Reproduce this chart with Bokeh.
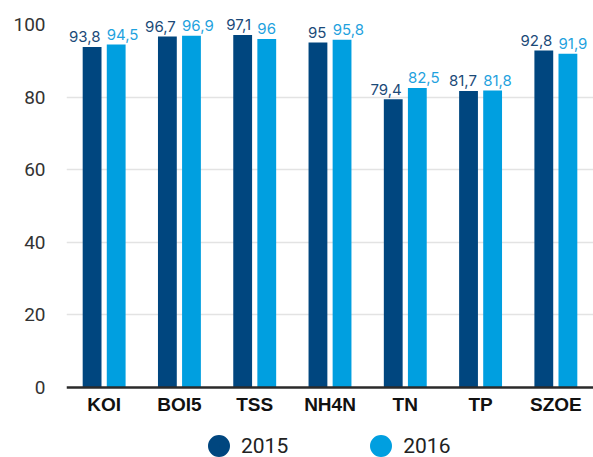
from bokeh.plotting import figure
from bokeh.models import FactorRange, Range1d, ColumnDataSource, Legend, LegendItem, FixedTicker
from bokeh.transform import dodge
from bokeh.core.properties import value
from bokeh.embed import file_html
from bokeh.resources import INLINE

cats = ["KOI", "BOI5", "TSS", "NH4N", "TN", "TP", "SZOE"]
v2015 = [93.8, 96.7, 97.1, 95, 79.4, 81.7, 92.8]
v2016 = [94.5, 96.9, 96, 95.8, 82.5, 81.8, 91.9]
years = ["2015", "2016"]
yticks = [0, 20, 40, 60, 80, 100]

def fmt(v):
    return f"{v:g}".replace(".", ",")

DARK = "#00467f"
LIGHT = "#009fe0"
DARK_T = "#1b4a78"
LIGHT_T = "#1fa2de"

OFF = 0.16
BW = 0.25

src = ColumnDataSource(dict(
    cats=cats, v2015=v2015, v2016=v2016,
    l2015=[fmt(v) for v in v2015], l2016=[fmt(v) for v in v2016],
))

# frame spans the full height; the category axis is pinned at y = 0 so that the
# legend below it still lies inside the frame
p = figure(x_range=FactorRange(*cats), y_range=Range1d(-19.28, 106.6),
           width=593, height=457, output_backend="svg", toolbar_location=None,
           min_border_left=66, min_border_right=0, min_border_top=0, min_border_bottom=0)
p.outline_line_color = None
p.background_fill_color = "white"

p.xgrid.visible = False
p.ygrid.ticker = FixedTicker(ticks=[20, 40, 60, 80])
p.ygrid.grid_line_color = "#e3e3e3"
p.ygrid.grid_line_width = 1.5

p.yaxis.ticker = FixedTicker(ticks=yticks)
p.yaxis.axis_line_color = None
p.yaxis.major_tick_line_color = None
p.yaxis.minor_tick_line_color = None
p.yaxis.major_label_standoff = 15
p.yaxis.major_label_text_font = "Roboto"
p.yaxis.major_label_text_font_size = "19px"
p.yaxis.major_label_text_color = "#333333"

p.xaxis.fixed_location = 0
p.xaxis.axis_line_color = "#2a2a2a"
p.xaxis.axis_line_width = 2.5
p.xaxis.major_tick_line_color = None
p.xaxis.minor_tick_line_color = None
p.xaxis.major_label_standoff = 0
p.xaxis.major_label_text_font = "Liberation Sans"
p.xaxis.major_label_text_font_style = "bold"
p.xaxis.major_label_text_font_size = "19px"
p.xaxis.major_label_text_color = "#111111"

p.vbar(x=dodge("cats", -OFF, range=p.x_range), top="v2015", width=BW,
       source=src, fill_color=DARK, line_color=None)
p.vbar(x=dodge("cats", OFF, range=p.x_range), top="v2016", width=BW,
       source=src, fill_color=LIGHT, line_color=None)

# 2015 labels right-aligned to the right edge of the dark bar,
# 2016 labels left-aligned to the left edge of the light bar
p.text(x=dodge("cats", -OFF + BW / 2, range=p.x_range), y="v2015", text="l2015", source=src,
       text_align="right", text_baseline="alphabetic", y_offset=-10, x_offset=-1,
       text_font=value("Inter"), text_font_size="15px", text_color=DARK_T)
p.text(x=dodge("cats", OFF - BW / 2, range=p.x_range), y="v2016", text="l2016", source=src,
       text_align="left", text_baseline="alphabetic", y_offset=-10,
       text_font=value("Inter"), text_font_size="15px", text_color=LIGHT_T)

# legend proxies (size 0 so they are not drawn in the plot)
r1 = p.scatter(x="cats", y="v2015", source=src, size=0, marker="circle",
               fill_color=DARK, line_color=DARK, line_width=12)
r2 = p.scatter(x="cats", y="v2016", source=src, size=0, marker="circle",
               fill_color=LIGHT, line_color=LIGHT, line_width=12)
legend = Legend(items=[LegendItem(label=years[0], renderers=[r1]),
                       LegendItem(label=years[1], renderers=[r2])],
                orientation="horizontal", location=(140, -1),
                glyph_width=25, glyph_height=25, label_standoff=10, spacing=80,
                padding=0, margin=0, border_line_color=None, background_fill_alpha=0,
                label_text_font="Roboto", label_text_font_size="21px",
                label_text_color="#222222")
p.add_layout(legend)

open("out.html", "w").write(file_html(p, INLINE))
